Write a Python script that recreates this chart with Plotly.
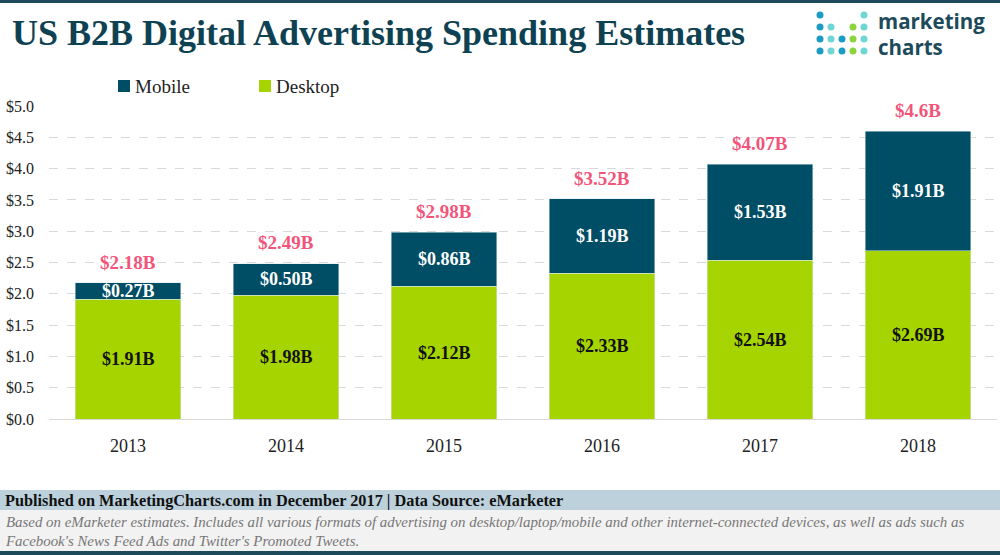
import plotly.graph_objects as go

years = ["2013", "2014", "2015", "2016", "2017", "2018"]
desktop = [1.91, 1.98, 2.12, 2.33, 2.54, 2.69]
mobile = [0.27, 0.50, 0.86, 1.19, 1.53, 1.91]
totals = [2.18, 2.49, 2.98, 3.52, 4.07, 4.6]
total_labels = ["$2.18B", "$2.49B", "$2.98B", "$3.52B", "$4.07B", "$4.6B"]
y_ticks = [0, 0.5, 1.0, 1.5, 2.0, 2.5, 3.0, 3.5, 4.0, 4.5, 5.0]
y_tick_labels = ["$%.1f" % v for v in y_ticks]

W, H = 1000, 555
L, R, T, B = 49, 3, 106, 136
PW, PH = W - L - R, H - T - B

def px(x):
    return (x - L) / PW

def py(y):
    return (H - B - y) / PH

SERIF = "Liberation Serif"
MOB = "#004d66"
DESK = "#a6d400"
PINK = "#f2557a"

fig = go.Figure()
fig.add_trace(go.Bar(x=years, y=desktop, name="Desktop", marker=dict(color=DESK, line=dict(width=0.5, color="#d8e8ee")),
                     hoverinfo="skip"))
fig.add_trace(go.Bar(x=years, y=mobile, name="Mobile", marker=dict(color=MOB, line=dict(width=0.5, color="#d8e8ee")),
                     hoverinfo="skip"))

ann = []
for i, yr in enumerate(years):
    ann.append(dict(x=i, y=desktop[i] / 2, text="$%.2fB" % desktop[i], showarrow=False,
                    font=dict(family=SERIF, size=18, color="#111111", weight="bold")))
    ann.append(dict(x=i, y=desktop[i] + mobile[i] / 2, text="$%.2fB" % mobile[i], showarrow=False,
                    font=dict(family=SERIF, size=18, color="white", weight="bold")))
    ann.append(dict(x=i, y=totals[i], text=total_labels[i], showarrow=False, yanchor="bottom", yshift=8,
                    font=dict(family=SERIF, size=19, color=PINK, weight="bold")))

# title
ann.append(dict(xref="paper", yref="paper", x=px(10), y=py(33), xanchor="left", yanchor="middle",
                text="<b>US B2B Digital Advertising Spending Estimates</b>", showarrow=False,
                font=dict(family=SERIF, size=36, color="#0e4253")))
# logo text
ann.append(dict(xref="paper", yref="paper", x=px(876), y=py(21), xanchor="left", yanchor="middle",
                text="<b>marketing</b>", showarrow=False, font=dict(family="Open Sans", size=20.5, color="#1d4a5a")))
ann.append(dict(xref="paper", yref="paper", x=px(876), y=py(47), xanchor="left", yanchor="middle",
                text="<b>charts</b>", showarrow=False, font=dict(family="Open Sans", size=20.5, color="#1d4a5a")))
# legend (manual)
ann.append(dict(xref="paper", yref="paper", x=px(133), y=py(86), xanchor="left", yanchor="middle",
                text="Mobile", showarrow=False, font=dict(family=SERIF, size=19, color="#222222")))
ann.append(dict(xref="paper", yref="paper", x=px(274), y=py(86), xanchor="left", yanchor="middle",
                text="Desktop", showarrow=False, font=dict(family=SERIF, size=19, color="#222222")))
# footer
ann.append(dict(xref="paper", yref="paper", x=px(3), y=py(500), xanchor="left", yanchor="middle",
                text="<b>Published on MarketingCharts.com in December 2017 | Data Source: eMarketer</b>", showarrow=False,
                font=dict(family=SERIF, size=16.3, color="#111111")))
ann.append(dict(xref="paper", yref="paper", x=px(3), y=py(531), xanchor="left", yanchor="middle", align="left",
                text="<i>Based on eMarketer estimates. Includes all various formats of advertising on desktop/laptop/mobile and other internet-connected devices, as well as ads such as<br>Facebook's News Feed Ads and Twitter's Promoted Tweets.</i>",
                showarrow=False, font=dict(family=SERIF, size=14.9, color="#777777")))

shapes = [
    dict(type="rect", xref="paper", yref="paper", x0=px(0), x1=px(1000), y0=py(3), y1=py(0), fillcolor="#1d4a5a", line_width=0, layer="below"),
    dict(type="rect", xref="paper", yref="paper", x0=px(0), x1=px(1000), y0=py(510), y1=py(490), fillcolor="#bdd1dd", line_width=0, layer="below"),
    dict(type="rect", xref="paper", yref="paper", x0=px(0), x1=px(1000), y0=py(551), y1=py(510), fillcolor="#f2f2f2", line_width=0, layer="below"),
    dict(type="rect", xref="paper", yref="paper", x0=px(0), x1=px(1000), y0=py(555), y1=py(551), fillcolor="#1d4a5a", line_width=0, layer="below"),
    dict(type="rect", xref="paper", yref="paper", x0=px(118), x1=px(130), y0=py(92), y1=py(80), fillcolor=MOB, line_width=0),
    dict(type="rect", xref="paper", yref="paper", x0=px(259), x1=px(271), y0=py(92), y1=py(80), fillcolor=DESK, line_width=0),
]
# logo dots: (col,row,color)
BLUE, LT, GRN = "#1a9cc4", "#6fd6d6", "#8cd43c"
dots = [(0, 0, BLUE), (4, 0, LT),
        (0, 1, BLUE), (1, 1, LT), (3, 1, GRN), (4, 1, LT),
        (0, 2, BLUE), (1, 2, LT), (2, 2, BLUE), (3, 2, GRN), (4, 2, LT),
        (0, 3, BLUE), (1, 3, LT), (2, 3, BLUE), (3, 3, GRN), (4, 3, LT)]
for c, r, col in dots:
    cx, cy = 820 + c * 11, 15 + r * 12
    shapes.append(dict(type="circle", xref="paper", yref="paper", x0=px(cx - 3.5), x1=px(cx + 3.5),
                       y0=py(cy + 3.5), y1=py(cy - 3.5), fillcolor=col, line_width=0))

fig.update_layout(
    width=W, height=H, margin=dict(l=L, r=R, t=T, b=B),
    barmode="stack", bargap=0.33,
    plot_bgcolor="white", paper_bgcolor="white",
    showlegend=False,
    xaxis=dict(type="category", range=[-0.5, 5.5], tickfont=dict(family=SERIF, size=18, color="#222222"),
               showline=False, ticks="", showgrid=False, ticklabelstandoff=14),
    yaxis=dict(range=[0, 5], tickvals=y_ticks, ticktext=y_tick_labels, showgrid=True, gridcolor="#d9d9d9",
               griddash="dash", gridwidth=1, zeroline=True, zerolinecolor="#d9d9d9", zerolinewidth=1,
               tickfont=dict(family=SERIF, size=16, color="#222222"), ticklabelstandoff=14),
    annotations=ann, shapes=shapes,
)
fig.write_html("out.html", config={"displayModeBar": False},
               post_script="document.body.style.margin='0';document.body.style.overflow='hidden';")
